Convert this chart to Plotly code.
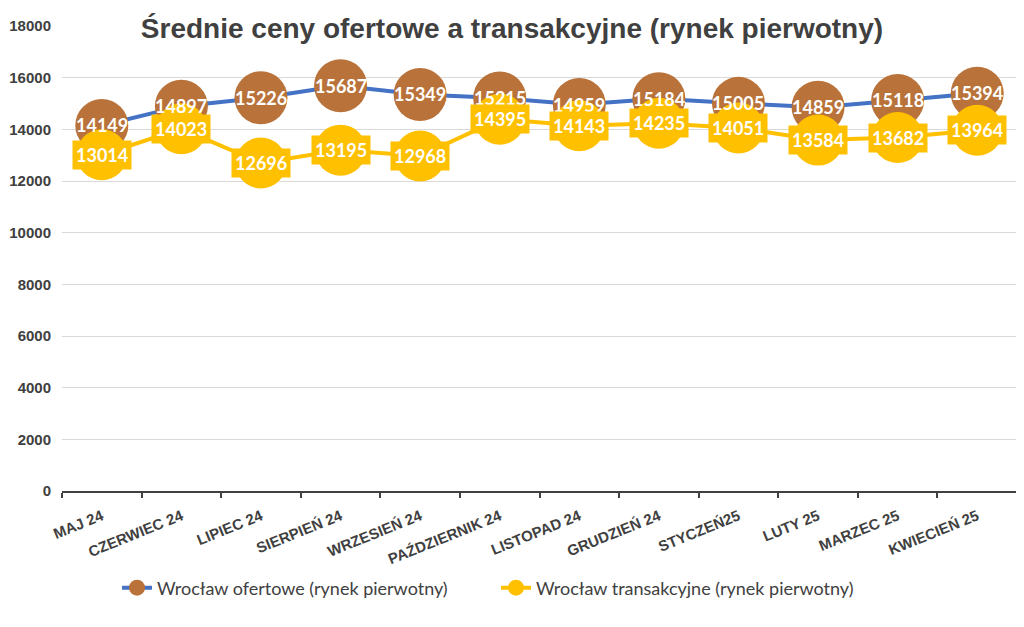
import plotly.graph_objects as go

months = ["MAJ 24", "CZERWIEC 24", "LIPIEC 24", "SIERPIEŃ 24", "WRZESIEŃ 24", "PAŹDZIERNIK 24",
          "LISTOPAD 24", "GRUDZIEŃ 24", "STYCZEŃ25", "LUTY 25", "MARZEC 25", "KWIECIEŃ 25"]
ofertowe = [14149, 14897, 15226, 15687, 15349, 15215, 14959, 15184, 15005, 14859, 15118, 15394]
transakcyjne = [13014, 14023, 12696, 13195, 12968, 14395, 14143, 14235, 14051, 13584, 13682, 13964]

name_of = "Wrocław ofertowe (rynek pierwotny)"
name_tr = "Wrocław transakcyjne (rynek pierwotny)"

BLUE = "#4472C4"
BROWN = "#B9733A"
YELLOW = "#FFC000"
GREY = "#404040"

fig = go.Figure()
fig.add_trace(go.Scatter(x=months, y=ofertowe, name=name_of, mode="lines+markers",
                         line=dict(color=BLUE, width=4),
                         marker=dict(color=BROWN, size=53)))
fig.add_trace(go.Scatter(x=months, y=transakcyjne, name=name_tr, mode="lines+markers",
                         line=dict(color=YELLOW, width=4),
                         marker=dict(color=YELLOW, size=51)))

annotations = []
for m, v in zip(months, ofertowe):
    annotations.append(dict(x=m, y=v, xref="x", yref="y", text=str(v), showarrow=False,
                            font=dict(family="Lato", size=18, color="white", weight="bold")))
for m, v in zip(months, transakcyjne):
    annotations.append(dict(x=m, y=v, xref="x", yref="y", text=str(v), showarrow=False,
                            bgcolor=YELLOW, borderpad=3,
                            font=dict(family="Lato", size=18, color="white", weight="bold")))

fig.update_layout(
    width=1024, height=627,
    paper_bgcolor="white", plot_bgcolor="white",
    margin=dict(l=54, r=15, t=18, b=144, autoexpand=False),
    title=dict(text="<b>Średnie ceny ofertowe a transakcyjne (rynek pierwotny)</b>",
               x=504 / 1024, xref="container", y=1 - 20 / 627, yref="container", yanchor="middle",
               xanchor="center",
               font=dict(family="Liberation Sans", size=28, color=GREY)),
    showlegend=True,
    legend=dict(orientation="h", x=434 / 955, xref="paper", xanchor="center",
                y=-(580 - 483) / 465, yanchor="middle",
                font=dict(family="Lato", size=18, color=GREY),
                entrywidth=334,
                bgcolor="rgba(0,0,0,0)"),
    annotations=annotations,
)
fig.update_xaxes(range=[-0.5, 11.5], showgrid=False, showline=True, linecolor=GREY, linewidth=2,
                 ticks="outside", tickson="boundaries", ticklen=5, tickcolor=GREY, tickwidth=2,
                 tickangle=-22, ticklabelstandoff=9,
                 tickfont=dict(family="Liberation Sans", size=15, color=GREY, weight="bold"))
fig.update_yaxes(range=[0, 18000], dtick=2000, showgrid=True, gridcolor="#D9D9D9", gridwidth=1,
                 zeroline=False, showline=False, tickformat="d", ticklabelstandoff=10,
                 tickfont=dict(family="Liberation Sans", size=15, color=GREY, weight="bold"))

fig.write_html("out.html")
